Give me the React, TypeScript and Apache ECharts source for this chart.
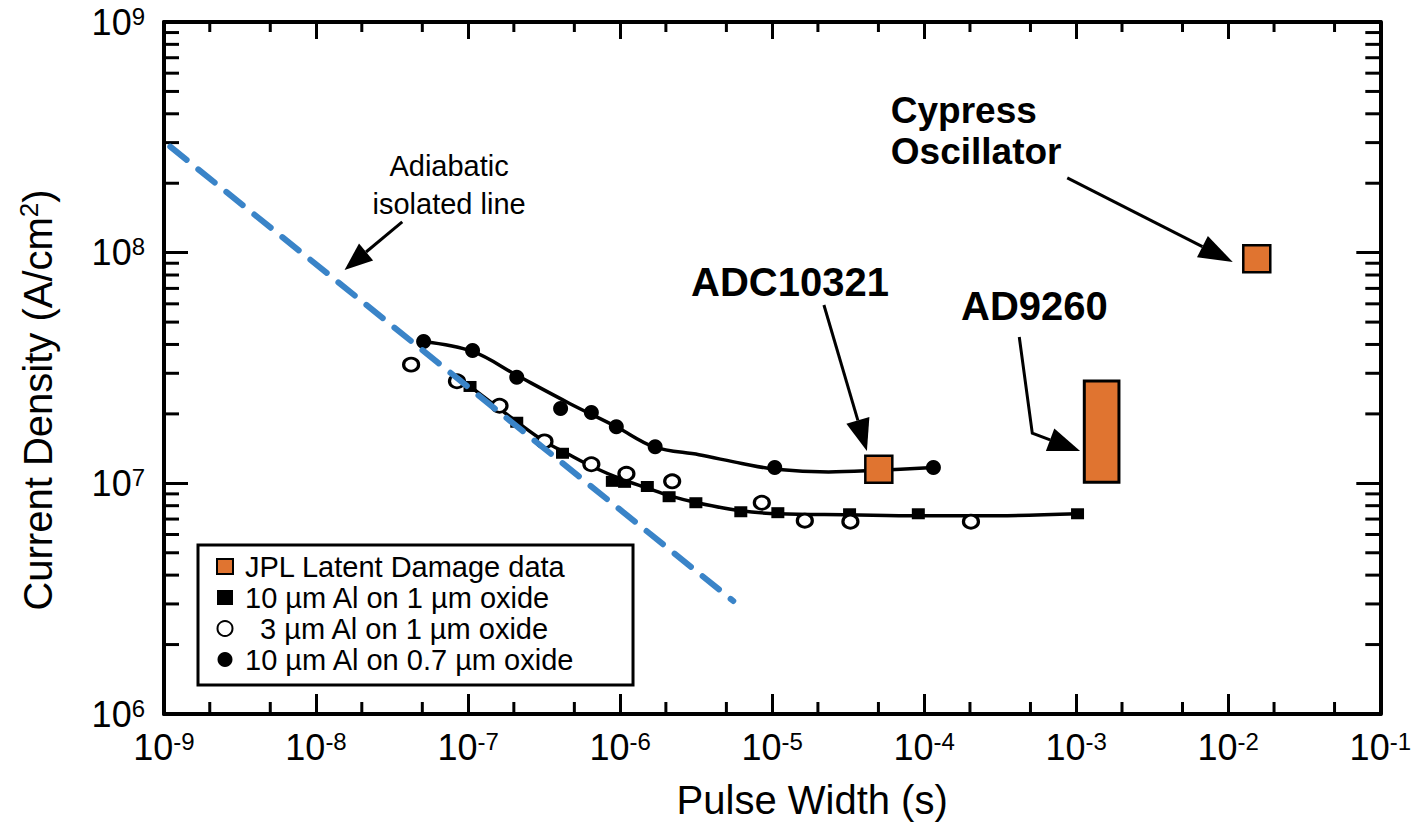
import React, { useEffect, useRef } from 'react';
import * as echarts from 'echarts';

const FONT = '"Liberation Sans", Arial, Helvetica, sans-serif';
const ORANGE = '#E07430';
const BLUE = '#3A84C8';

// axis decades (exponents) and minor-tick multipliers
const xExps = [-9, -8, -7, -6, -5, -4, -3, -2, -1];
const yExps = [6, 7, 8, 9];
const xMinorMult = [2, 5];
const yMinorMult = [2, 3, 4, 5, 6, 7, 8, 9];

const NAME_JPL = 'JPL Latent Damage data';
const NAME_A = '10 µm Al on 1 µm oxide';
const NAME_B = '3 µm Al on 1 µm oxide';
const NAME_C = '10 µm Al on 0.7 µm oxide';

// JPL latent damage points: ADC10321, Cypress Oscillator
const jplPoints = [
  [5.03e-5, 1.15e7],
  [1.54e-2, 9.4e7],
];
// AD9260 range box: [xLow, xHigh, yLow, yHigh]
const ad9260Box = [[1.13e-3, 1.91e-3, 1.01e7, 2.78e7]];

// 10 µm Al on 1 µm oxide (filled squares)
const al10ox1 = [
  [1.03e-7, 2.63e7], [2.09e-7, 1.84e7], [4.18e-7, 1.35e7], [8.89e-7, 1.02e7],
  [1.07e-6, 1.01e7], [1.51e-6, 9.69e6], [2.10e-6, 8.75e6], [3.15e-6, 8.24e6],
  [6.22e-6, 7.53e6], [1.09e-5, 7.46e6], [3.23e-5, 7.38e6], [9.15e-5, 7.38e6],
  [1.02e-3, 7.38e6],
];
// 3 µm Al on 1 µm oxide (open circles)
const al3ox1 = [
  [4.22e-8, 3.27e7], [8.45e-8, 2.77e7], [1.61e-7, 2.17e7], [3.18e-7, 1.52e7],
  [6.47e-7, 1.21e7], [1.10e-6, 1.10e7], [2.20e-6, 1.02e7], [8.55e-6, 8.24e6],
  [1.64e-5, 6.89e6], [3.27e-5, 6.82e6], [2.03e-4, 6.82e6],
];
// 10 µm Al on 0.7 µm oxide (filled circles)
const al10ox07 = [
  [5.1e-8, 4.12e7], [1.07e-7, 3.77e7], [2.09e-7, 2.88e7], [4.06e-7, 2.11e7],
  [6.47e-7, 2.03e7], [9.44e-7, 1.76e7], [1.70e-6, 1.44e7], [1.04e-5, 1.17e7],
  [1.15e-4, 1.17e7],
];
// fitted curves
const fitOx07 = [
  [5.06e-8, 4.12e7], [1.07e-7, 3.73e7], [2.09e-7, 2.94e7], [4.65e-7, 2.22e7],
  [9.44e-7, 1.76e7], [1.67e-6, 1.44e7], [3.30e-6, 1.33e7], [6.32e-6, 1.22e7],
  [1.06e-5, 1.15e7], [2.35e-5, 1.12e7], [5.07e-5, 1.14e7], [1.15e-4, 1.17e7],
];
const fitOx1 = [
  [1.03e-7, 2.63e7], [2.09e-7, 1.85e7], [3.18e-7, 1.52e7], [4.44e-7, 1.35e7],
  [6.58e-7, 1.18e7], [1.03e-6, 1.04e7], [1.49e-6, 9.57e6], [2.10e-6, 8.85e6],
  [3.21e-6, 8.24e6], [6.22e-6, 7.60e6], [1.10e-5, 7.38e6], [3.18e-5, 7.31e6],
  [9.15e-5, 7.24e6], [3.05e-4, 7.24e6], [1.02e-3, 7.38e6],
];
// adiabatic isolated line
const adiabatic = [
  [1.1e-9, 2.88e8],
  [5.55e-6, 3.09e6],
];

// annotations (data coordinates)
const adiabaticLabelAt = [7.5e-8, 1.97e8];
const adiabaticArrow = [[3.69e-8, 1.36e8], [1.54e-8, 8.42e7]];
const adcLabelAt = [1.31e-5, 7.47e7];
const adcArrow = [[2.19e-5, 5.93e7], [4.2e-5, 1.38e7]];
const ad9260LabelAt = [5.31e-4, 5.87e7];
const ad9260Arrow = [[4.22e-4, 4.31e7], [5.14e-4, 1.65e7], [1.06e-3, 1.38e7]];
const cypressLabelAt = [6.03e-5, 3.37e8];
const cypressArrow = [[8.73e-4, 2.11e8], [1.07e-2, 9.11e7]];

function buildMinorTicks() {
  const out: number[][] = [];
  for (let i = 0; i < xExps.length - 1; i++) {
    for (const m of xMinorMult) out.push([m * Math.pow(10, xExps[i]), 1e7, 0]);
  }
  for (let i = 0; i < yExps.length - 1; i++) {
    for (const m of yMinorMult) out.push([1e-5, m * Math.pow(10, yExps[i]), 1]);
  }
  return out;
}

const supLabel = (v: number) => {
  const e = Math.round(Math.log10(v));
  return `{b|10}{s|${e}}`;
};

const labelRich = {
  b: { fontSize: 36, fontFamily: FONT, color: '#000', lineHeight: 36, verticalAlign: 'bottom' },
  s: { fontSize: 24, fontFamily: FONT, color: '#000', lineHeight: 17, verticalAlign: 'top' },
};

const axisLineStyle = { show: true, lineStyle: { color: '#000', width: 4 } };

export default function App() {
  const ref = useRef<HTMLDivElement>(null);
  useEffect(() => {
    document.body.style.margin = '0';
    const chart = echarts.init(ref.current!, null, { renderer: 'svg' });
    const option: any = {
      animation: false,
      backgroundColor: '#fff',
      grid: { left: 164, right: 30, top: 22, bottom: 111 },
      xAxis: [
        {
          type: 'log', logBase: 10, min: 1e-9, max: 1e-1, position: 'bottom',
          axisLine: axisLineStyle,
          axisTick: { show: true, inside: true, length: 20, lineStyle: { color: '#000', width: 3 } },
          splitLine: { show: false },
          minorTick: { show: false },
          axisLabel: { formatter: supLabel, rich: labelRich, margin: 15, showMinLabel: true, showMaxLabel: true },
          name: 'Pulse Width (s)', nameLocation: 'middle', nameGap: 66,
          nameTextStyle: { fontSize: 40, fontFamily: FONT, color: '#000', padding: [0, 0, 0, 80] },
        },
        {
          type: 'log', logBase: 10, min: 1e-9, max: 1e-1, position: 'top',
          axisLine: axisLineStyle,
          axisTick: { show: true, inside: true, length: 17, lineStyle: { color: '#000', width: 3 } },
          splitLine: { show: false },
          axisLabel: { show: false },
        },
      ],
      yAxis: [
        {
          type: 'log', logBase: 10, min: 1e6, max: 1e9, position: 'left',
          axisLine: axisLineStyle,
          axisTick: { show: true, inside: true, length: 24, lineStyle: { color: '#000', width: 3 } },
          splitLine: { show: false },
          axisLabel: { formatter: supLabel, rich: labelRich, margin: 19, showMinLabel: true, showMaxLabel: true },
          name: '{t|Current Density (A/cm}{s|2}{t|)}', nameLocation: 'middle', nameGap: 106,
          nameTextStyle: {
            fontSize: 40, fontFamily: FONT, color: '#000', padding: [0, 64, 0, 0],
            rich: {
              t: { fontSize: 40, fontFamily: FONT, color: '#000', lineHeight: 42, verticalAlign: 'bottom' },
              s: { fontSize: 26, fontFamily: FONT, color: '#000', lineHeight: 25, verticalAlign: 'top' },
            },
          },
        },
        {
          type: 'log', logBase: 10, min: 1e6, max: 1e9, position: 'right',
          axisLine: axisLineStyle,
          axisTick: { show: true, inside: true, length: 24, lineStyle: { color: '#000', width: 3 } },
          splitLine: { show: false },
          axisLabel: { show: false },
        },
      ],
      legend: {
        orient: 'vertical', left: 198, top: 545,
        backgroundColor: '#fff', borderColor: '#000', borderWidth: 3, borderRadius: 0,
        padding: [7, 58, 11, 18], itemGap: 2, itemWidth: 16, itemHeight: 15,
        selectedMode: false,
        textStyle: {
          fontSize: 29, fontFamily: FONT, color: '#000', lineHeight: 29,
          rich: { p: { width: 7 }, q: { width: 22 } },
        },
        formatter: (name: string) => (name === NAME_B ? '{q| }' : '{p| }') + name,
        data: [
          { name: NAME_JPL, icon: 'rect' },
          { name: NAME_A, icon: 'rect' },
          { name: NAME_B, icon: 'circle' },
          { name: NAME_C, icon: 'circle' },
        ],
      },
      series: [
        {
          type: 'custom', name: 'minor ticks', silent: true, clip: false, z: 3,
          xAxisIndex: 0, yAxisIndex: 0,
          dimensions: ['x', 'y', 'k'], encode: { x: 0, y: 1 },
          data: buildMinorTicks(),
          renderItem: (params: any, api: any) => {
            const cs = params.coordSys;
            const st = { stroke: '#000', lineWidth: 3 };
            if (api.value(2) === 0) {
              const p = api.coord([api.value(0), 1e7]);
              const b = cs.y + cs.height;
              return {
                type: 'group', children: [
                  { type: 'line', shape: { x1: p[0], y1: b, x2: p[0], y2: b - 12 }, style: st },
                  { type: 'line', shape: { x1: p[0], y1: cs.y, x2: p[0], y2: cs.y + 10 }, style: st },
                ],
              };
            }
            const p = api.coord([1e-5, api.value(1)]);
            const r = cs.x + cs.width;
            return {
              type: 'group', children: [
                { type: 'line', shape: { x1: cs.x, y1: p[1], x2: cs.x + 15, y2: p[1] }, style: st },
                { type: 'line', shape: { x1: r, y1: p[1], x2: r - 15, y2: p[1] }, style: st },
              ],
            };
          },
        },
        {
          type: 'line', name: 'fit 0.7', data: fitOx07, smooth: 0.35, showSymbol: false, symbol: 'none',
          lineStyle: { color: '#000', width: 3.5 }, silent: true, z: 4,
        },
        {
          type: 'line', name: 'fit 1', data: fitOx1, smooth: 0.35, showSymbol: false, symbol: 'none',
          lineStyle: { color: '#000', width: 3.5 }, silent: true, z: 4,
        },
        {
          type: 'scatter', name: NAME_A, data: al10ox1, symbol: 'rect', symbolSize: [13, 11],
          itemStyle: { color: '#000', opacity: 1 }, z: 5,
        },
        {
          type: 'scatter', name: NAME_B, data: al3ox1, symbol: 'circle', symbolSize: [15, 13],
          itemStyle: { color: '#fff', borderColor: '#000', borderWidth: 3, opacity: 1 }, z: 5,
        },
        {
          type: 'scatter', name: NAME_C, data: al10ox07, symbol: 'circle', symbolSize: 15,
          itemStyle: { color: '#000', opacity: 1 }, z: 5,
        },
        {
          type: 'line', name: 'Adiabatic isolated line', data: adiabatic, showSymbol: false, symbol: 'none',
          lineStyle: { color: BLUE, width: 6, type: [21, 15], cap: 'round' }, silent: true, z: 6,
        },
        {
          type: 'scatter', name: NAME_JPL, data: jplPoints, symbol: 'rect', symbolSize: 27,
          itemStyle: { color: ORANGE, borderColor: '#000', borderWidth: 2.5, opacity: 1 }, z: 7,
        },
        {
          type: 'custom', name: NAME_JPL, z: 7, xAxisIndex: 0, yAxisIndex: 0,
          dimensions: ['x0', 'x1', 'y0', 'y1'], encode: { x: [0, 1], y: [2, 3] },
          data: ad9260Box,
          renderItem: (params: any, api: any) => {
            const a = api.coord([api.value(0), api.value(3)]);
            const b = api.coord([api.value(1), api.value(2)]);
            return {
              type: 'rect',
              shape: { x: a[0], y: a[1], width: b[0] - a[0], height: b[1] - a[1] },
              style: { fill: ORANGE, stroke: '#000', lineWidth: 3 },
            };
          },
        },
      ],
    };
    chart.setOption(option);

    const px = (p: number[]) => chart.convertToPixel({ xAxisIndex: 0, yAxisIndex: 0 }, p) as number[];
    const arrow = (tail: number[], tip: number[], L: number, W: number) => {
      const dx = tip[0] - tail[0];
      const dy = tip[1] - tail[1];
      const len = Math.hypot(dx, dy);
      const ux = dx / len, uy = dy / len;
      const bx = tip[0] - ux * L, by = tip[1] - uy * L;
      const nx = -uy, ny = ux;
      return [
        { type: 'line', shape: { x1: tail[0], y1: tail[1], x2: bx, y2: by }, style: { stroke: '#000', lineWidth: 3 } },
        {
          type: 'polygon',
          shape: { points: [[tip[0], tip[1]], [bx + nx * W, by + ny * W], [bx - nx * W, by - ny * W]] },
          style: { fill: '#000' },
        },
      ];
    };
    const text = (at: number[], t: string, size: number, bold: boolean, align: string, lh: number) => {
      const p = px(at);
      return {
        type: 'text', x: p[0], y: p[1],
        style: {
          text: t, fontSize: size, fontFamily: FONT, fontWeight: bold ? 'bold' : 'normal',
          fill: '#000', align, verticalAlign: 'middle', lineHeight: lh,
        },
      };
    };
    const ad = ad9260Arrow.map(px);
    const adHead = arrow(ad[1], ad[2], 32, 12);
    const elements: any[] = [
      text(adiabaticLabelAt, 'Adiabatic\nisolated line', 29, false, 'center', 38),
      ...arrow(px(adiabaticArrow[0]), px(adiabaticArrow[1]), 28, 11),
      text(adcLabelAt, 'ADC10321', 40, true, 'center', 40),
      ...arrow(px(adcArrow[0]), px(adcArrow[1]), 32, 12),
      text(ad9260LabelAt, 'AD9260', 40, true, 'center', 40),
      {
        type: 'polyline',
        shape: { points: [ad[0], ad[1], [(adHead[0] as any).shape.x2, (adHead[0] as any).shape.y2]] },
        style: { stroke: '#000', lineWidth: 3, fill: null },
      },
      adHead[1],
      text(cypressLabelAt, 'Cypress\nOscillator', 37, true, 'left', 41),
      ...arrow(px(cypressArrow[0]), px(cypressArrow[1]), 34, 12),
    ].map((e) => ({ ...e, z: 100, silent: true }));
    chart.setOption({ graphic: elements });

    return () => chart.dispose();
  }, []);
  return (
    <div
      ref={ref}
      style={{ position: 'fixed', left: 0, top: 0, width: 1414, height: 825, background: '#fff' }}
    />
  );
}
